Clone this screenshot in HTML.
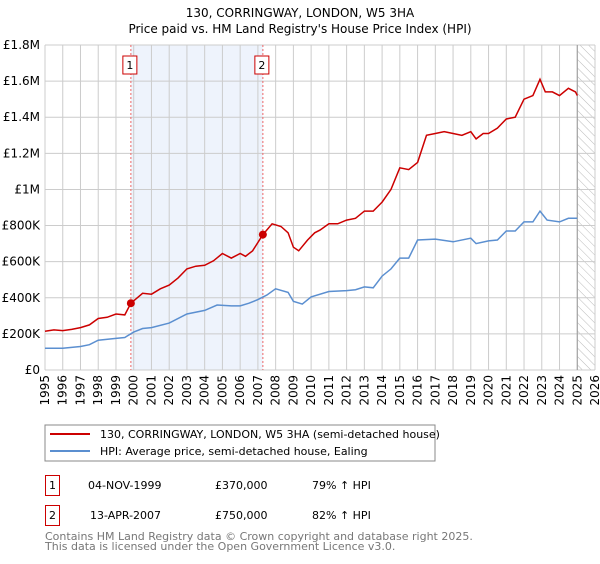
<!DOCTYPE html>
<html><head><meta charset="utf-8"><style>
body{margin:0;background:#fff;font-family:"DejaVu Sans","Liberation Sans",sans-serif;}
svg text{font-family:"DejaVu Sans","Liberation Sans",sans-serif;}
</style></head><body>
<svg id="chart" width="600" height="560" viewBox="0 0 600 560" xmlns="http://www.w3.org/2000/svg">
<defs><pattern id="hatch" width="6" height="6" patternUnits="userSpaceOnUse" patternTransform="rotate(-45)"><line x1="0" y1="0" x2="0" y2="6" stroke="#bbb" stroke-width="1"/></pattern></defs>
<text x="300" y="17" text-anchor="middle" font-size="12" fill="#000">130, CORRINGWAY, LONDON, W5 3HA</text>
<text x="300" y="33" text-anchor="middle" font-size="12" fill="#000">Price paid vs. HM Land Registry's House Price Index (HPI)</text>
<g id="plot"></g>
<rect x="45" y="425" width="390" height="36" fill="#fff" stroke="#888"/>
<line x1="50" y1="434" x2="90" y2="434" stroke="#cc0000" stroke-width="2"/>
<text x="100" y="438" font-size="11">130, CORRINGWAY, LONDON, W5 3HA (semi-detached house)</text>
<line x1="50" y1="451" x2="90" y2="451" stroke="#5b8fd0" stroke-width="2"/>
<text x="100" y="455" font-size="11">HPI: Average price, semi-detached house, Ealing</text>
<g>
<rect x="45.5" y="475.5" width="14" height="20" fill="#fff" stroke="#cc0000"/>
<text x="52.5" y="489" font-size="11" text-anchor="middle">1</text>
<text x="88" y="489" font-size="11">04-NOV-1999</text>
<text x="215" y="489" font-size="11">£370,000</text>
<text x="312" y="489" font-size="11">79% ↑ HPI</text>
</g>
<g>
<rect x="45.5" y="505.5" width="14" height="20" fill="#fff" stroke="#cc0000"/>
<text x="52.5" y="519" font-size="11" text-anchor="middle">2</text>
<text x="90" y="519" font-size="11">13-APR-2007</text>
<text x="215" y="519" font-size="11">£750,000</text>
<text x="312" y="519" font-size="11">82% ↑ HPI</text>
</g>
<text x="45" y="540" font-size="11" fill="#777">Contains HM Land Registry data © Crown copyright and database right 2025.</text>
<text x="45" y="550" font-size="11" fill="#777">This data is licensed under the Open Government Licence v3.0.</text>
</svg>
<script>
const yTicks=[0,200000,400000,600000,800000,1000000,1200000,1400000,1600000,1800000];
const yTickLabels=["£0","£200K","£400K","£600K","£800K","£1M","£1.2M","£1.4M","£1.6M","£1.8M"];
const xYears=[1995,1996,1997,1998,1999,2000,2001,2002,2003,2004,2005,2006,2007,2008,2009,2010,2011,2012,2013,2014,2015,2016,2017,2018,2019,2020,2021,2022,2023,2024,2025,2026];
const saleDates=[1999.84,2007.28];
const salePrices=[370000,750000];
const saleLabels=["1","2"];
const redT=[1995,1995.5,1996,1996.5,1997,1997.5,1998,1998.5,1999,1999.5,1999.84,2000.5,2001,2001.5,2002,2002.5,2003,2003.5,2004,2004.5,2005,2005.5,2006,2006.3,2006.7,2007.28,2007.8,2008.3,2008.7,2009,2009.3,2009.8,2010.2,2010.5,2011,2011.5,2012,2012.5,2013,2013.5,2014,2014.5,2015,2015.5,2016,2016.5,2017,2017.5,2018,2018.5,2019,2019.3,2019.7,2020,2020.5,2021,2021.5,2022,2022.5,2022.9,2023.2,2023.6,2024,2024.5,2024.9,2025];
const redV=[215,222,218,225,235,250,285,292,310,305,370,425,420,450,470,510,560,575,580,605,645,620,645,630,660,750,810,795,760,680,660,720,760,775,810,810,830,840,880,880,930,1000,1120,1110,1150,1300,1310,1320,1310,1300,1320,1280,1310,1310,1340,1390,1400,1500,1520,1610,1540,1540,1520,1560,1540,1520];
const blueT=[1995,1996,1997,1997.5,1998,1999,1999.5,2000,2000.5,2001,2002,2003,2004,2004.7,2005.5,2006,2006.5,2007,2007.5,2008,2008.7,2009,2009.5,2010,2011,2012,2012.5,2013,2013.5,2014,2014.5,2015,2015.5,2016,2017,2018,2019,2019.3,2020,2020.5,2021,2021.5,2022,2022.5,2022.9,2023.3,2024,2024.5,2025];
const blueV=[120,120,130,140,165,175,180,210,230,235,260,310,330,360,355,355,370,390,415,450,430,380,365,405,435,440,445,460,455,520,560,620,620,720,725,710,730,700,715,720,770,770,820,820,880,830,820,840,840];
const NS="http://www.w3.org/2000/svg";
const X0=45,X1=595,Y0=370,Y1=45;
function xs(t){return X0+(t-1995)/(2026-1995)*(X1-X0);}
function ys(v){return Y0-v/1800000*(Y0-Y1);}
const g=document.getElementById('plot');
function mk(tag,attrs){const e=document.createElementNS(NS,tag);for(const k in attrs)e.setAttribute(k,attrs[k]);g.appendChild(e);return e;}
// shaded region
let sh=mk('rect',{x:xs(saleDates[0]),y:Y1,width:xs(saleDates[1])-xs(saleDates[0]),height:Y0-Y1,fill:'#eef3fc'});


let ht=mk('rect',{x:xs(2025),y:Y1,width:X1-xs(2025),height:Y0-Y1,fill:'url(#hatch)'});


// grid
yTicks.forEach((v,i)=>{
 let l=mk('line',{x1:X0,x2:X1,y1:ys(v),y2:ys(v),stroke:'#ccc'});
 
 
 let t=mk('text',{x:X0-5,y:ys(v)+4,'text-anchor':'end','font-size':'12'});
 t.textContent=yTickLabels[i];
 
 
});
xYears.forEach(yr=>{
 let l=mk('line',{x1:xs(yr),x2:xs(yr),y1:Y1,y2:Y0,stroke:'#ccc'});
 
 
 let t=mk('text',{x:0,y:0,'text-anchor':'end','font-size':'12',transform:`translate(${xs(yr)+4},${Y0+5}) rotate(-90)`});
 t.textContent=yr;
 
 
});
let vl=mk('line',{x1:xs(2025),x2:xs(2025),y1:Y1,y2:Y0,stroke:'#999'});


saleDates.forEach((d,i)=>{
 let l=mk('line',{x1:xs(d),x2:xs(d),y1:Y1,y2:Y0,stroke:'#e66','stroke-dasharray':'2,2'});
 
 
 let b=mk('rect',{x:xs(d)-8,y:56,width:14,height:18,fill:'#fff',stroke:'#cc0000'});
 
 
 let t=mk('text',{x:xs(d)-1,y:69,'text-anchor':'middle','font-size':'11'});
 t.textContent=saleLabels[i];
 
 
});
function line(T,V,col,name){
 let d=T.map((t,i)=>(i?'L':'M')+xs(t).toFixed(1)+','+ys(V[i]*1000).toFixed(1)).join('');
 let p=mk('path',{d:d,fill:'none',stroke:col,'stroke-width':1.5});
 
 
}
line(blueT,blueV,'#5b8fd0','hpi-line');
line(redT,redV,'#cc0000','property-line');
saleDates.forEach((d,i)=>{
 let c=mk('circle',{cx:xs(d),cy:ys(salePrices[i]),r:4,fill:'#cc0000'});
 
 
});
</script>
</body></html>
